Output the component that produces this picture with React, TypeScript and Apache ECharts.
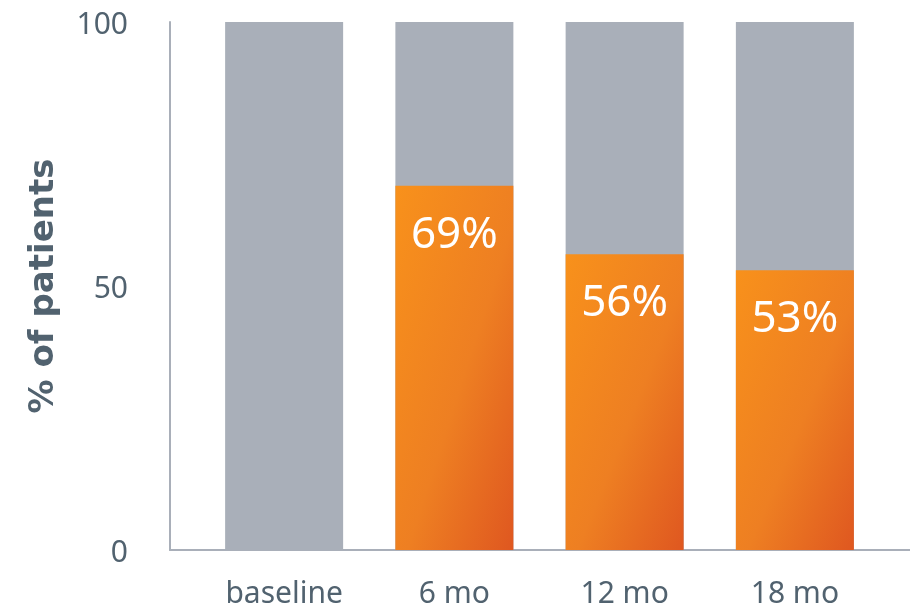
import React, { useEffect, useRef } from "react";
import * as echarts from "echarts";

// Share of patients by visit
const categories = ["baseline", "6 mo", "12 mo", "18 mo"];
const totalValues = [100, 100, 100, 100];
const responderValues: (number | null)[] = [null, 69, 56, 53];
const yTicks = [0, 50, 100];

const TEXT = "#51626F";
const GREY = "#A9AFB9";
const FONT = "'Noto Sans', sans-serif";

export default function App() {
  const ref = useRef<HTMLDivElement>(null);

  useEffect(() => {
    if (!ref.current) return;
    const chart = echarts.init(ref.current, undefined, { renderer: "svg" });

    const orange = new echarts.graphic.LinearGradient(0, 0, 1, 1, [
      { offset: 0, color: "#F8911B" },
      { offset: 0.55, color: "#EE7F22" },
      { offset: 1, color: "#DF5720" },
    ]);

    chart.setOption({
      animation: false,
      textStyle: { fontFamily: FONT },
      grid: [
        // plotting area for the bars
        { left: 199, width: 681, top: 22, bottom: 60 },
        // frame carrying the axis lines and tick labels
        { left: 170, right: 0, top: 22, bottom: 60 },
      ],
      xAxis: [
        {
          type: "category",
          gridIndex: 0,
          data: categories,
          axisLine: { show: false },
          axisTick: { show: false },
          axisLabel: { color: TEXT, fontSize: 30, margin: 26, fontFamily: FONT },
        },
        {
          type: "category",
          gridIndex: 1,
          data: [""],
          axisLine: { show: true, lineStyle: { color: GREY, width: 2 } },
          axisTick: { show: false },
          axisLabel: { show: false },
        },
      ],
      yAxis: [
        {
          type: "value",
          gridIndex: 0,
          min: yTicks[0],
          max: yTicks[yTicks.length - 1],
          interval: 50,
          show: false,
        },
        {
          type: "value",
          gridIndex: 1,
          min: yTicks[0],
          max: yTicks[yTicks.length - 1],
          interval: 50,
          name: "% of patients",
          nameLocation: "middle",
          nameGap: 112,
          nameTextStyle: {
            color: TEXT,
            fontSize: 34,
            fontWeight: "bold",
            fontFamily: "'DejaVu Sans', sans-serif",
          },
          axisLine: { show: true, lineStyle: { color: GREY, width: 2 } },
          axisTick: { show: false },
          splitLine: { show: false },
          axisLabel: { color: TEXT, fontSize: 30, margin: 42, fontFamily: FONT },
        },
      ],
      series: [
        {
          type: "bar",
          xAxisIndex: 0,
          yAxisIndex: 0,
          data: totalValues,
          barWidth: 118,
          barGap: "-100%",
          itemStyle: { color: GREY },
          silent: true,
        },
        {
          type: "bar",
          xAxisIndex: 0,
          yAxisIndex: 0,
          data: responderValues,
          barWidth: 118,
          barGap: "-100%",
          itemStyle: { color: orange },
          label: {
            show: true,
            position: "insideTop",
            distance: 23,
            color: "#FFFFFF",
            fontSize: 44,
            fontFamily: FONT,
            formatter: (p: any) => `${p.value}%`,
          },
        },
      ],
    });

    return () => chart.dispose();
  }, []);

  return (
    <div
      ref={ref}
      style={{ position: "fixed", left: 0, top: 0, width: 910, height: 610 }}
    />
  );
}
